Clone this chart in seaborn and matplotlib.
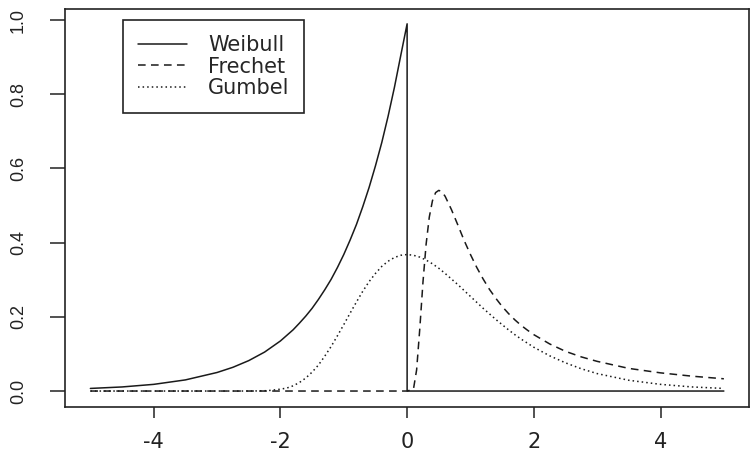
import seaborn as sns
import matplotlib.pyplot as plt

# valores
x_weibull = [-5, -4.5, -4, -3.5, -3, -2.75, -2.5, -2.25, -2, -1.9, -1.8, -1.7, -1.6, -1.5, -1.4,
             -1.3, -1.2, -1.1, -1, -0.9, -0.8, -0.7, -0.6, -0.5, -0.4, -0.3, -0.2, -0.1, 0, 0, 5]
y_weibull = [0.007, 0.011, 0.018, 0.030, 0.050, 0.064, 0.082, 0.105, 0.135, 0.150, 0.165, 0.183,
             0.202, 0.223, 0.247, 0.273, 0.301, 0.333, 0.368, 0.407, 0.449, 0.497, 0.549, 0.607,
             0.670, 0.741, 0.819, 0.905, 0.99, 0.0, 0.0]

x_frechet = [-5, 0, 0.1, 0.15, 0.2, 0.25, 0.3, 0.35, 0.4, 0.45, 0.5, 0.55, 0.6, 0.7, 0.8, 0.9, 1,
             1.1, 1.2, 1.3, 1.4, 1.5, 1.6, 1.7, 1.8, 1.9, 2, 2.25, 2.5, 2.75, 3, 3.5, 4, 4.5, 5]
y_frechet = [0, 0, 0.005, 0.057, 0.168, 0.293, 0.396, 0.469, 0.513, 0.535, 0.541, 0.537, 0.525,
             0.489, 0.448, 0.406, 0.368, 0.333, 0.302, 0.274, 0.250, 0.228, 0.209, 0.192, 0.177,
             0.164, 0.152, 0.127, 0.107, 0.092, 0.080, 0.061, 0.049, 0.040, 0.033]

x_gumbel = [-5, -4.5, -4, -3.5, -3, -2.8, -2.6, -2.4, -2.2, -2, -1.9, -1.8, -1.7, -1.6, -1.5, -1.4,
            -1.3, -1.2, -1.1, -1, -0.9, -0.8, -0.7, -0.6, -0.5, -0.4, -0.3, -0.2, -0.1, 0,
            0.1, 0.2, 0.3, 0.4, 0.5, 0.6, 0.7, 0.8, 0.9, 1, 1.1, 1.2, 1.3, 1.4, 1.5, 1.6, 1.7,
            1.8, 1.9, 2, 2.25, 2.5, 2.75, 3, 3.5, 4, 4.5, 5]
y_gumbel = [0, 0, 0, 0, 0, 0, 0, 0.0002, 0.001, 0.005, 0.008, 0.014, 0.023, 0.035, 0.051, 0.070,
            0.094, 0.120, 0.149, 0.179, 0.210, 0.240, 0.269, 0.295, 0.317, 0.336, 0.350, 0.360,
            0.366, 0.368, 0.366, 0.361, 0.353, 0.343, 0.331, 0.317, 0.302, 0.287, 0.271, 0.255,
            0.239, 0.223, 0.208, 0.193, 0.179, 0.165, 0.152, 0.140, 0.129, 0.118, 0.095, 0.076,
            0.060, 0.047, 0.029, 0.018, 0.011, 0.007]

yticks = [0.0, 0.2, 0.4, 0.6, 0.8, 1.0]
xticks = [-4, -2, 0, 2, 4]

sns.set_style("ticks")
plt.rcParams['font.family'] = ['DejaVu Sans']

fig = plt.figure(figsize=(7.51, 4.51), dpi=100)
ax = fig.add_axes([0.0866, 0.0976, 0.911, 0.8825])

color = "#1a1a1a"
sns.lineplot(x=x_weibull, y=y_weibull, sort=False, estimator=None, color=color,
             linewidth=1.1, label="Weibull", ax=ax)
sns.lineplot(x=x_frechet, y=y_frechet, sort=False, estimator=None, color=color,
             linewidth=1.1, label="Frechet", ax=ax)
sns.lineplot(x=x_gumbel, y=y_gumbel, sort=False, estimator=None, color=color,
             linewidth=1.1, label="Gumbel", ax=ax)
ax.lines[1].set_dashes([5, 3.5])
ax.lines[2].set_dashes([1, 2])

ax.set_xlim(-5.4, 5.4)
ax.set_ylim(-0.043, 1.03)
ax.set_xticks(xticks)
ax.set_xticklabels([f"{t:d}" for t in xticks], fontsize=15)
ax.set_yticks(yticks)
ax.set_yticklabels([f"{t:.1f}" for t in yticks], rotation=90, va="center",
                   family="Liberation Sans", fontsize=13)

for s in ax.spines.values():
    s.set_visible(True)
    s.set_color("#222222")
    s.set_linewidth(1.2)

ax.tick_params(axis="x", length=8, width=1.1, pad=10, colors="#222222")
ax.tick_params(axis="y", length=10.5, width=1.1, pad=17, colors="#222222")

leg = ax.legend(loc="upper left", bbox_to_anchor=(0.085, 0.972), borderaxespad=0,
                fancybox=False, frameon=True, fontsize=15, handlelength=2.35,
                handletextpad=1.0, labelspacing=0.08, borderpad=0.72)
leg.get_frame().set_edgecolor("#222222")
leg.get_frame().set_linewidth(1.2)
leg.get_frame().set_alpha(1)

fig.savefig("out.png", dpi=100)
